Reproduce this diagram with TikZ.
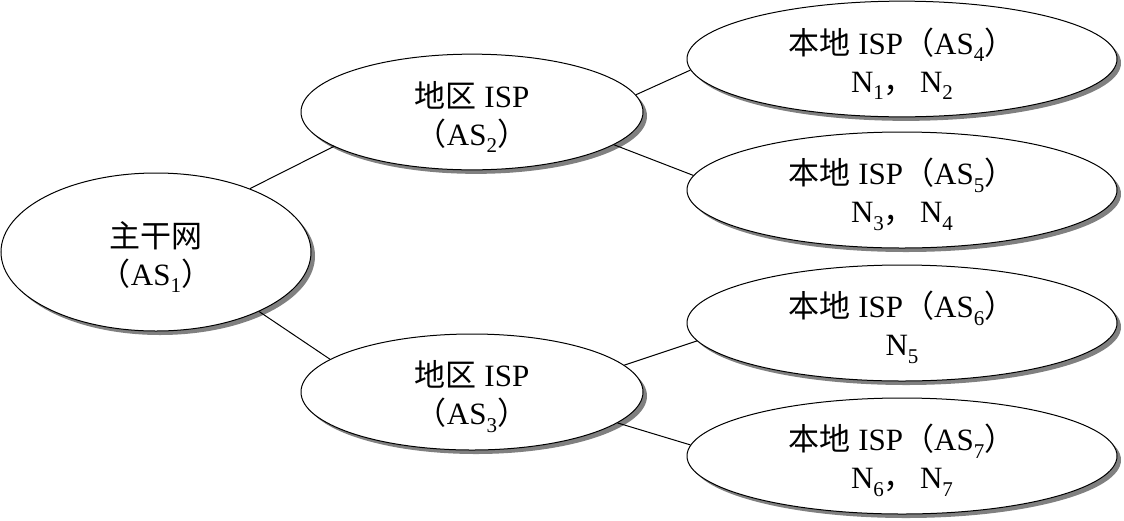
\documentclass[tikz,border=0pt]{standalone}
\usepackage{fontspec}
\setmainfont{Liberation Serif}
\newfontfamily\cjk{Noto Sans CJK SC}
\usetikzlibrary{shapes.geometric,shadows}
\newcommand\lowsub[1]{\raisebox{-0.55ex}{\fontsize{21}{21}\selectfont #1}}
\newcommand\topstrut{\rule{0pt}{36pt}}
\tikzset{
  ell/.style={ellipse, draw=black, line width=1pt, fill=white, inner sep=0pt,
    align=center, font=\fontsize{31}{38}\selectfont,
    drop shadow={shadow xshift=4pt, shadow yshift=-4pt, fill=black!50, opacity=1}},
  link/.style={line width=1pt, draw=black}
}
\begin{document}
\begin{tikzpicture}[x=1pt,y=-1pt]
\useasboundingbox (0,0) rectangle (1124,520);
\node[ell, minimum width=310pt, minimum height=158pt] (bb) at (156,252)
  {\topstrut{\cjk 主干网}\\{\cjk （}AS\lowsub{1}{\cjk ）}};
\node[ell, minimum width=342pt, minimum height=96pt] (r2) at (472,112)
  {\topstrut{\cjk 地区} ISP\\{\cjk （}AS\lowsub{2}{\cjk ）}};
\node[ell, minimum width=342pt, minimum height=96pt] (r3) at (472,392)
  {\topstrut{\cjk 地区} ISP\\{\cjk （}AS\lowsub{3}{\cjk ）}};
\node[ell, minimum width=430pt, minimum height=114pt] (l4) at (902,59)
  {\topstrut{\cjk 本地} ISP{\cjk （}AS\lowsub{4}{\cjk ）}\\N\lowsub{1}{\cjk ，}\,N\lowsub{2}};
\node[ell, minimum width=430pt, minimum height=114pt] (l5) at (902,190)
  {\topstrut{\cjk 本地} ISP{\cjk （}AS\lowsub{5}{\cjk ）}\\N\lowsub{3}{\cjk ，}\,N\lowsub{4}};
\node[ell, minimum width=430pt, minimum height=116pt] (l6) at (902,323)
  {\topstrut{\cjk 本地} ISP{\cjk （}AS\lowsub{6}{\cjk ）}\\N\lowsub{5}};
\node[ell, minimum width=430pt, minimum height=114pt] (l7) at (902,456)
  {\topstrut{\cjk 本地} ISP{\cjk （}AS\lowsub{7}{\cjk ）}\\N\lowsub{6}{\cjk ，}\,N\lowsub{7}};
\draw[link] (bb.34) -- (r2.194.5);
\draw[link] (bb.330) -- (r3.167);
\draw[link] (r2.6) -- (l4.183.5);
\draw[link] (r2.347) -- (l5.176.7);
\draw[link] (r3.10) -- (l6.185);
\draw[link] (r3.348) -- (l7.177);
\end{tikzpicture}
\end{document}
